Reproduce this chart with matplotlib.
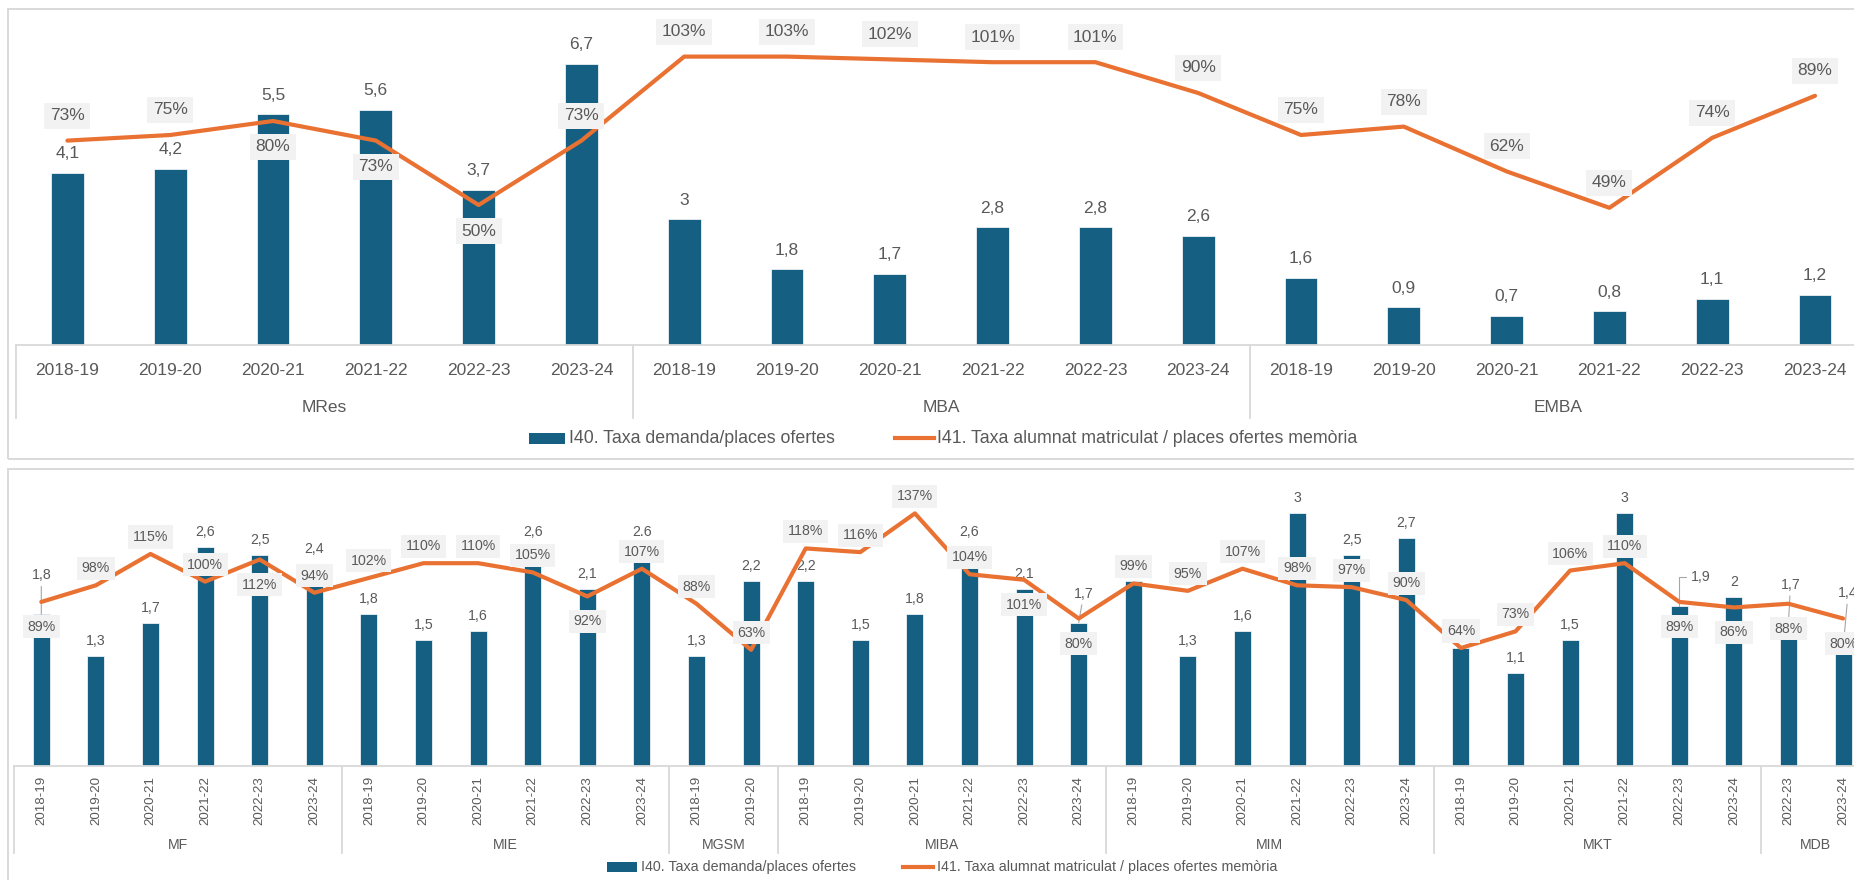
import matplotlib
matplotlib.use("Agg")
import matplotlib.pyplot as plt
from matplotlib.patches import Rectangle
from matplotlib.lines import Line2D

plt.rcParams['font.family'] = ['Liberation Sans', 'DejaVu Sans']

BLUE = '#156082'
ORANGE = '#E97132'
TEXT = '#595959'
RULE = '#d9d9d9'
BOX = '#f2f2f2'

W, H = 1854, 880

cursos = ['2018-19', '2019-20', '2020-21', '2021-22', '2022-23', '2023-24']

# Panel superior: MRes, MBA, EMBA
sup_programes = ['MRes', 'MBA', 'EMBA']
sup_cursos = [cursos, cursos, cursos]
sup_i40 = [4.1, 4.2, 5.5, 5.6, 3.7, 6.7,
           3, 1.8, 1.7, 2.8, 2.8, 2.6,
           1.6, 0.9, 0.7, 0.8, 1.1, 1.2]
sup_i41 = [0.73, 0.75, 0.80, 0.73, 0.50, 0.73,
           1.03, 1.03, 1.02, 1.01, 1.01, 0.90,
           0.75, 0.78, 0.62, 0.49, 0.74, 0.89]

# Panel inferior: resta de màsters
inf_programes = ['MF', 'MIE', 'MGSM', 'MIBA', 'MIM', 'MKT', 'MDB']
inf_cursos = [cursos, cursos, cursos[:2], cursos, cursos, cursos, cursos[4:]]
inf_i40 = [1.8, 1.3, 1.7, 2.6, 2.5, 2.4,
           1.8, 1.5, 1.6, 2.6, 2.1, 2.6,
           1.3, 2.2,
           2.2, 1.5, 1.8, 2.6, 2.1, 1.7,
           2.2, 1.3, 1.6, 3, 2.5, 2.7,
           1.4, 1.1, 1.5, 3, 1.9, 2,
           1.7, 1.4]
inf_i41 = [0.89, 0.98, 1.15, 1.00, 1.12, 0.94,
           1.02, 1.10, 1.10, 1.05, 0.92, 1.07,
           0.88, 0.63,
           1.18, 1.16, 1.37, 1.04, 1.01, 0.80,
           0.99, 0.95, 1.07, 0.98, 0.97, 0.90,
           0.64, 0.73, 1.06, 1.10, 0.89, 0.86,
           0.88, 0.80]

LEG_BAR = 'I40. Taxa demanda/places ofertes'
LEG_LINE = 'I41. Taxa alumnat matriculat / places ofertes memòria'


def fx(px):
    return px / W


def fy(py):
    return 1 - py / H


def bar_label(v, dot=False):
    s = f'{v:g}'
    return s if dot else s.replace('.', ',')


def panel(rect, programes, cursos_prog, i40, i41, ylim, y2lim, opt):
    left, top, right, bottom = rect
    ax = fig.add_axes([fx(left), fy(bottom), fx(right - left), (bottom - top) / H])
    n = len(i40)
    x = list(range(n))
    ax.set_xlim(-0.5, n - 0.5)
    ax.set_ylim(*ylim)
    for s in ['top', 'left', 'right']:
        ax.spines[s].set_visible(False)
    ax.spines['bottom'].set_color(RULE)
    ax.spines['bottom'].set_linewidth(1.3)
    ax.set_xticks([])
    ax.set_yticks([])
    ax.patch.set_visible(False)

    ax.bar(x, i40, width=opt['bar_w'], color=BLUE, edgecolor='white', linewidth=0.5, zorder=2)

    # etiquetes de les barres (algunes desplaçades amb línia guia)
    for i, v in enumerate(i40):
        txt = bar_label(v, i in opt.get('dot', ()))
        if i in opt['leaders']:
            dx, dy = opt['leaders'][i]
            conn = 'angle,angleA=180,angleB=90,rad=0' if i in opt.get('elbow', ()) else 'arc3'
            ax.annotate(txt, xy=(i, v), xytext=(dx, dy), textcoords='offset pixels',
                        ha='center', va='center', fontsize=opt['fs'], color=TEXT,
                        arrowprops=dict(arrowstyle='-', color='#a6a6a6', lw=0.8,
                                        shrinkA=1, shrinkB=0, connectionstyle=conn),
                        zorder=4)
        else:
            ax.annotate(txt, xy=(i, v), xytext=(0, opt['bar_dy']), textcoords='offset pixels',
                        ha='center', va='center', fontsize=opt['fs'], color=TEXT, zorder=4)

    ax2 = ax.twinx()
    ax2.set_ylim(*y2lim)
    ax2.set_axis_off()
    ax2.plot(x, i41, color=ORANGE, lw=opt['lw'], solid_joinstyle='round',
             solid_capstyle='round', zorder=3)
    for i, v in enumerate(i41):
        dy = opt['pct_below'] if i in opt['below'] else opt['pct_above']
        ax2.annotate(f'{round(v * 100)}%', xy=(i, v), xytext=(0, dy), textcoords='offset pixels',
                     ha='center', va='center', fontsize=opt['fs'], color=TEXT, zorder=5,
                     bbox=dict(boxstyle='square,pad=0.32', facecolor=BOX, edgecolor='none'))

    # eix de categories en dos nivells
    xt = ax.get_xaxis_transform()
    hpx = ax.bbox.height
    pos = 0
    bounds = [0]
    for prog, cs in zip(programes, cursos_prog):
        for j, c in enumerate(cs):
            ax.annotate(c, xy=(pos + j, 0), xycoords=xt, xytext=(0, opt['tick_dy']),
                        textcoords='offset pixels', ha='center', va=opt['tick_va'],
                        rotation=opt['tick_rot'], fontsize=opt['tick_fs'], color=TEXT)
        ax.annotate(prog, xy=(pos + (len(cs) - 1) / 2, 0), xycoords=xt, xytext=(0, opt['group_dy']),
                    textcoords='offset pixels', ha='center', va='center',
                    fontsize=opt['group_fs'], color=TEXT)
        pos += len(cs)
        bounds.append(pos)
    for b in bounds:
        ax.plot([b - 0.5, b - 0.5], [0, -opt['sep'] / hpx], transform=xt, color=RULE,
                lw=1.3, clip_on=False)
    return ax, ax2


fig = plt.figure(figsize=(W / 100, H / 100), dpi=100)

# marcs dels dos gràfics
fig.add_artist(Rectangle((fx(8), fy(459)), fx(1900), (459 - 9) / H, transform=fig.transFigure,
                         fill=False, edgecolor=RULE, lw=1.4))
fig.add_artist(Rectangle((fx(8), fy(920)), fx(1900), (920 - 469) / H, transform=fig.transFigure,
                         fill=False, edgecolor=RULE, lw=1.4))

panel((16, 9, 16 + 18 * 102.8, 345), sup_programes, sup_cursos, sup_i40, sup_i41,
      (0, 8), (0, 1.2),
      dict(bar_w=0.32, lw=3.0, fs=12.5, bar_dy=19, pct_above=25, pct_below=-26,
           below={2, 3, 4}, leaders={}, tick_dy=-25, tick_va='center', tick_rot=0,
           tick_fs=12.5, group_dy=-62, group_fs=12.5, sep=73))

panel((14, 471, 14 + 34 * 54.6, 766), inf_programes, inf_cursos, inf_i40, inf_i41,
      (0, 3.5), (0, 1.6),
      dict(bar_w=0.31, lw=3.0, fs=10.2, bar_dy=15, pct_above=17, pct_below=-25,
           below={0, 4, 10, 18, 19, 30, 31, 32, 33},
           leaders={0: (0, 39), 19: (5, 29), 30: (21, 29), 32: (2, 38), 33: (5, 55)},
           elbow={30}, dot={11}, tick_dy=-10, tick_va='top', tick_rot=90,
           tick_fs=9.6, group_dy=-79, group_fs=10.2, sep=87))

# llegendes
for (py, px0, pw, ph, tx1, lx0, lx1, tx2, fs) in [(438, 529, 36, 11, 569, 895, 934, 937, 12.8),
                                                 (867, 607, 30, 10, 641, 903, 933, 937, 10.3)]:
    fig.add_artist(Rectangle((fx(px0), fy(py + ph / 2)), fx(pw), ph / H,
                             transform=fig.transFigure, color=BLUE, lw=0))
    fig.text(fx(tx1), fy(py), LEG_BAR, ha='left', va='center', fontsize=fs, color=TEXT)
    fig.add_artist(Line2D([fx(lx0), fx(lx1)], [fy(py), fy(py)], transform=fig.transFigure,
                          color=ORANGE, lw=3.0))
    fig.text(fx(tx2), fy(py), LEG_LINE, ha='left', va='center', fontsize=fs, color=TEXT)

fig.savefig('out.png', dpi=100)
